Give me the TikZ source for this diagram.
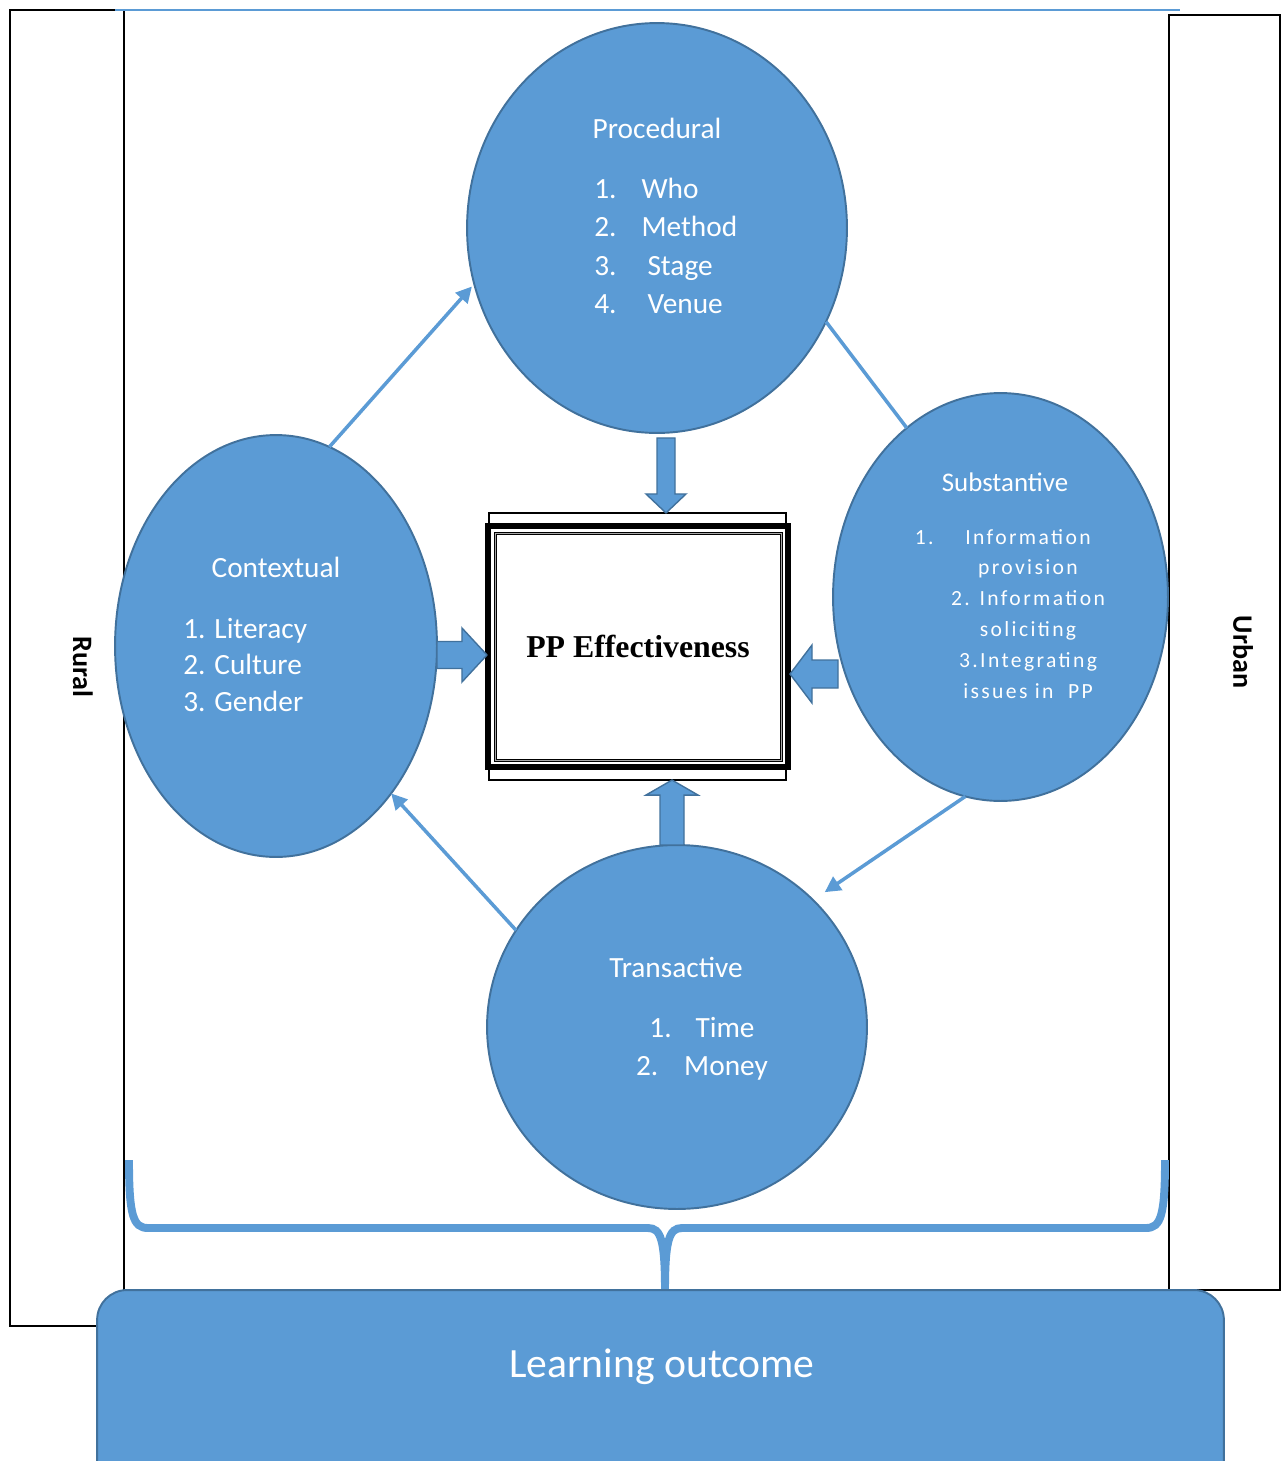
\documentclass[tikz,border=0pt]{standalone}
\usepackage{fontspec}
\setmainfont{Carlito}
\newfontfamily\timesfont{Liberation Serif}
\newfontfamily\spacedfont[LetterSpace=11]{Carlito}
\usetikzlibrary{shapes.geometric,arrows.meta,calc}

\definecolor{ppblue}{HTML}{5B9BD5}
\definecolor{ppedge}{HTML}{41719C}

\tikzset{
  bubble/.style={ellipse, fill=ppblue, draw=ppedge, line width=1.1pt, inner sep=0pt, outer sep=0pt},
  bubbletext/.style={text=white, inner sep=0pt, font=\fontsize{16.7}{22}\selectfont},
  link/.style={ppblue, line width=2pt},
  blockar/.style={fill=ppblue, draw=ppedge, line width=0.8pt},
  sidebox/.style={draw=black, line width=1.1pt},
  sidelabel/.style={inner sep=0pt, rotate=-90, font=\fontsize{16}{19}\selectfont\bfseries},
  ppbox/.style={draw=black, line width=3.4pt, fill=white, minimum width=6cm, minimum height=4.82cm, inner sep=0pt, outer sep=0pt},
  learnbox/.style={fill=ppblue, draw=ppedge, line width=1.1pt, rounded corners=0.6cm, minimum width=22.54cm, minimum height=4cm, inner sep=0pt},
  brace/.style={ppblue, line width=4.5pt},
}
% block arrow: tail, angle, length, shaft half width, head half width, head length
\newcommand{\blockarrow}[6]{%
  \draw[blockar, shift={(#1)}, rotate=#2] (0,-#4) -- (#3-#6,-#4) -- (#3-#6,-#5) -- (#3,0)
    -- (#3-#6,#5) -- (#3-#6,#4) -- (0,#4) -- cycle;}

\begin{document}
\begin{tikzpicture}[x=0.02cm, y=-0.02cm]
  \useasboundingbox (0,0) rectangle (1287,1461);
  \clip (0,0) rectangle (1287,1461);

  % rural and urban frames
  \draw[sidebox] (10,10) rectangle (124,1326);
  \draw[sidebox] (1169,15) rectangle (1280,1290);
  \draw[ppblue, line width=1.2pt] (115,10) -- (1180,10);
  \node[sidelabel] (rural) at (83,667) {Rural};
  \node[sidelabel] (urban) at (1243,652) {Urban};

  % the four dimensions
  \node[bubble, minimum width=7.6cm, minimum height=8.2cm] (proc) at (657,228) {};
  \node[bubble, minimum width=6.44cm, minimum height=8.44cm] (cont) at (276,646) {};
  \node[bubble, minimum width=6.7cm, minimum height=8.16cm] (subs) at (1000.5,597) {};
  \node[bubble, minimum width=7.6cm, minimum height=7.28cm] (trans) at (677,1027) {};

  \node[bubbletext] (proctitle) at (657,128) {Procedural};
  \node[bubbletext, anchor=base west] (proclist) at (594,198) {%
    \begin{tabular}[t]{@{}l@{\hspace{14.2pt}}l@{}}
      1. & Who\\
      2. & Method\\
      3. & \hspace{3.4pt}Stage\\
      4. & \hspace{3.4pt}Venue
    \end{tabular}};

  \node[bubbletext] (conttitle) at (276,567) {Contextual};
  \node[bubbletext, anchor=base west, font=\fontsize{16.7}{21}\selectfont] (contlist) at (183,638) {%
    \begin{tabular}[t]{@{}l@{}}
      1. Literacy\\
      2. Culture\\
      3. Gender
    \end{tabular}};

  \node[bubbletext, font=\fontsize{15.3}{19}\selectfont] (substitle) at (1005,482) {Substantive};
  \node[bubbletext, anchor=base, font=\spacedfont\fontsize{12.3}{17.6}\selectfont] (subslist) at (1028,544) {%
    \begin{tabular}[t]{@{}c@{}}
      \llap{1.\hspace{18pt}}Information\\
      provision\\
      2. Information\\
      soliciting\\
      3.Integrating\\
      issues in~ PP
    \end{tabular}};

  \node[bubbletext] (transtitle) at (676,967) {Transactive};
  \node[bubbletext, anchor=base] (translist) at (702,1037) {%
    \begin{tabular}[t]{@{}c@{}}
      1.\hspace{13.6pt}Time\\
      2.\hspace{14.7pt}Money
    \end{tabular}};

  % thin connectors round the cycle
  \draw[link, -{Triangle[length=9pt,width=9pt]}, shorten >=2pt] (cont.75.5) -- (proc.197);
  \draw[link] (proc.-29) -- (subs.119.7);
  \draw[link, -{Triangle[length=9pt,width=9pt]}, shorten >=8pt] (subs.-100) -- (trans.43.8);
  \draw[link, -{Triangle[length=9pt,width=9pt]}] (trans.149.8) -- (cont.-52.6);

  % central box
  \draw[black, line width=0.7pt] (489,513) rectangle (786,780);
  \node[ppbox, font=\timesfont\bfseries\fontsize{18.1}{22}\selectfont] (ppe) at (638,646.5) {PP Effectiveness};
  \draw[gray!70, line width=1.2pt] ($(ppe.north west)+(7,7)$) rectangle ($(ppe.south east)+(-7,-7)$);
  \draw[black, line width=0.3pt] ($(ppe.north west)+(6,6)$) rectangle ($(ppe.south east)+(-6,-6)$);
  \draw[black, line width=0.3pt] ($(ppe.north west)+(8,8)$) rectangle ($(ppe.south east)+(-8,-8)$);

  % block arrows into the box
  \blockarrow{$(proc.south)+(9,5)$}{-90}{75}{9}{20}{19}
  \blockarrow{$(cont.east)+(0,9)$}{0}{50}{13.5}{27}{25}
  \blockarrow{838,674}{180}{48}{14}{29}{22}
  \blockarrow{$(trans.north)+(-5,0)$}{90}{65}{12}{26}{15}

  % brace
  \draw[brace] (129,1160) .. controls (129,1215) and (133,1228) .. (148,1228) -- (648,1228)
    .. controls (661,1228) and (665,1240) .. (665,1292);
  \draw[brace] (1165,1160) .. controls (1165,1215) and (1161,1228) .. (1146,1228) -- (682,1228)
    .. controls (669,1228) and (665,1240) .. (665,1292);

  % outcome
  \node[learnbox] (learn) at (660.5,1390) {};
  \node[text=white, inner sep=0pt, font=\fontsize{23.7}{28}\selectfont] (learntext) at (662,1367) {Learning outcome};
\end{tikzpicture}
\end{document}
